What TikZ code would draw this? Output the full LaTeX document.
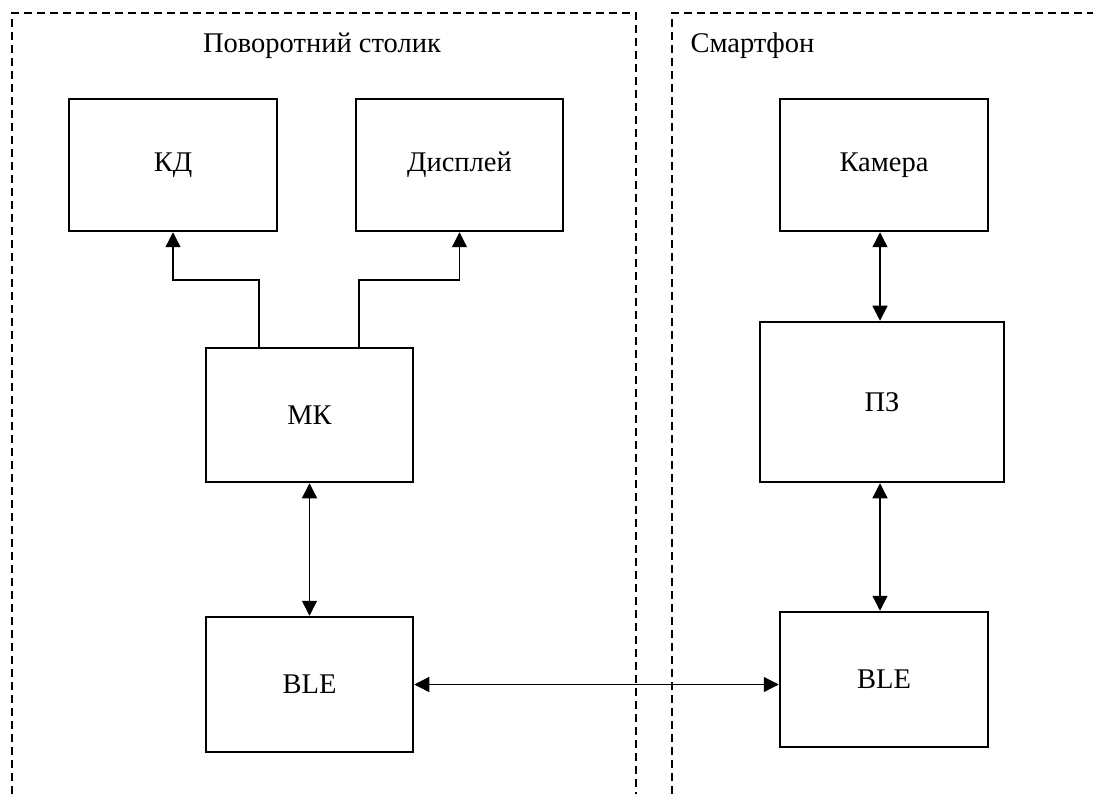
\documentclass[tikz,border=0pt]{standalone}
\usepackage{fontspec}
\setmainfont{Liberation Serif}
\usetikzlibrary{arrows.meta}

\begin{document}
\begin{tikzpicture}[x=1pt, y=-1pt,
    every node/.style={font=\fontsize{28.5}{33}\selectfont},
    block/.style={draw, line width=2.5pt, inner sep=0pt},
    link/.style={line width=1.3pt, {Triangle[length=15pt,width=15pt]}-{Triangle[length=15pt,width=15pt]}},
    uplink/.style={line width=1.3pt, -{Triangle[length=15pt,width=15pt]}},
    frame/.style={line width=1.5pt, dash pattern=on 8pt off 5pt},
  ]
  \useasboundingbox (0,0) rectangle (1093,794);
  % groups
  \draw[frame] (12,794) |- (636,13) -- (636,794);
  \draw[frame] (672,794) |- (1093,13);
  \node (turntable) at (322,46) {Поворотний столик};
  \node[anchor=west] (phone) at (687,46) {Смартфон};
  % turntable side
  \begin{scope}[every node/.append style={block}]
    \node[minimum width=208pt, minimum height=132pt] (kd) at (173,165) {КД};
    \node[minimum width=207pt, minimum height=132pt] (disp) at (459.5,165) {Дисплей};
    \node[minimum width=207pt, minimum height=134pt] (mk) at (309.5,415) {МК};
    \node[minimum width=207pt, minimum height=135pt] (ble1) at (309.5,684.5) {BLE};
  \end{scope}
  % smartphone side
  \begin{scope}[every node/.append style={block}]
    \node[minimum width=208pt, minimum height=132pt] (cam) at (884,165) {Камера};
    \node[minimum width=244pt, minimum height=160pt] (pz) at (882,402) {ПЗ};
    \node[minimum width=208pt, minimum height=135pt] (ble2) at (884,679.5) {BLE};
  \end{scope}
  % connections
  \draw[uplink] ([xshift=-50.5pt]mk.north) |- (216,280) -| (kd.south);
  \draw[uplink] ([xshift=49.5pt]mk.north) |- (410,280) -| (disp.south);
  \draw[link] (mk.south) -- (ble1.north);
  \draw[link] ([xshift=-4pt]cam.south) -- ([xshift=-2pt]pz.north);
  \draw[link] ([xshift=-2pt]pz.south) -- ([xshift=-4pt]ble2.north);
  \draw[link] (ble1.east) -- (ble1.east -| ble2.west);
\end{tikzpicture}
\end{document}
